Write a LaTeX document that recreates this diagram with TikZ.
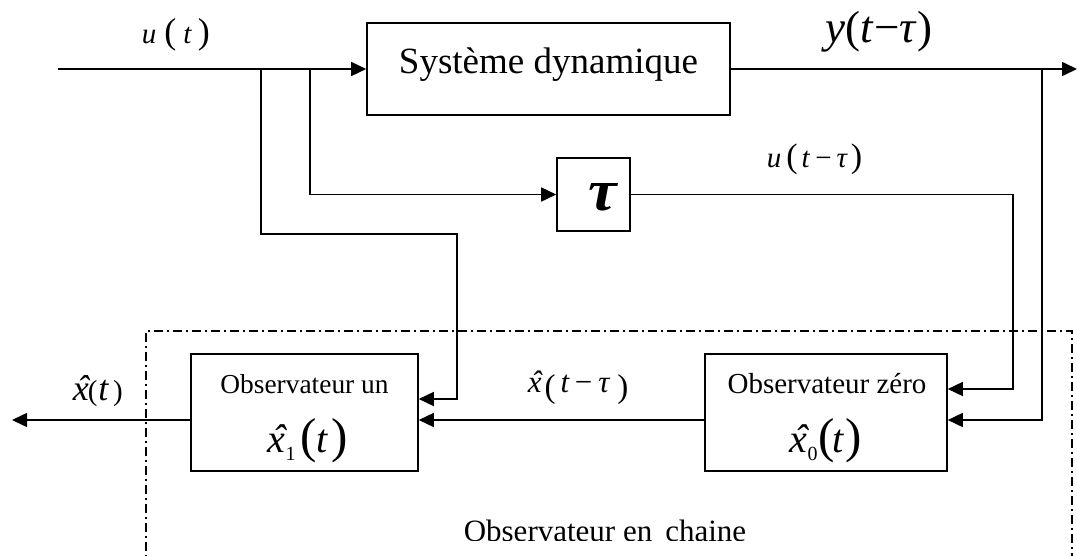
\documentclass[tikz,border=0pt]{standalone}
\usepackage{fontspec}
\setmainfont{Liberation Serif}
\usepackage{graphicx}
\usetikzlibrary{arrows.meta,calc}
\newcommand\fs[1]{\fontsize{#1}{#1}\selectfont}
\newcommand\xh{\textit{x\llap{ˆ}}}
\begin{document}
\begin{tikzpicture}[x=1pt,y=-1pt,line width=1.6pt,
  arr/.style={-{Triangle[length=15pt,width=14pt]}},
  blk/.style={draw,line width=1.6pt,inner sep=0pt},
  lbl/.style={inner sep=0pt,anchor=base west},
  dashdot/.style={line width=1.4pt,dash pattern=on 9pt off 4pt on 2pt off 4pt}]
\clip (0,0) rectangle (1077,555);
% blocks
\node[blk,minimum width=363pt,minimum height=92pt,text height=30pt,text depth=22pt] (sys) at (548.5,69) {\fs{37}Système dynamique};
\node[blk,minimum width=73pt,minimum height=73pt] (tau) at (593.5,194.5) {};
\node[inner sep=0pt] (taut) at (603,197) {\resizebox{30pt}{27pt}{\textbf{\textit{τ}}}};
\node[blk,minimum width=227pt,minimum height=117pt] (obs1) at (304.5,412.5) {};
\node[blk,minimum width=242pt,minimum height=117pt] (obs0) at (826,412.5) {};
% texts inside observer blocks
\node[inner sep=0pt,anchor=base] (obs1t) at (304.5,393) {\fs{27.4}Observateur un};
\node[lbl] (obs1x) at (267,452) {\fs{40}\xh\raisebox{-8pt}{\fs{20}1}\kern5pt\fs{49}(\fs{40}\textit{t}\kern3pt\fs{49})};
\node[inner sep=0pt,anchor=base] (obs0t) at (827,393) {\fs{29}Observateur zéro};
\node[lbl] (obs0x) at (789,452) {\fs{40}\xh\raisebox{-8pt}{\fs{20}0}\kern1pt\fs{49}(\kern-2pt\fs{40}\textit{t}\kern1pt\fs{49})};
% signal labels
\node[lbl] (lu) at (141,43) {\fs{29}\textit{u}\hspace{8pt}\fs{36}(\hspace{7pt}\fs{29}\textit{t}\hspace{6pt}\fs{36})};
\node[lbl] (ly) at (825,42) {\fs{45}\textit{y}(\textit{t}−\textit{τ})};
\node[lbl] (lut) at (766,167) {\fs{29}\textit{u}\hspace{5pt}\fs{34}(\hspace{4pt}\fs{29}\textit{t}\hspace{5pt}−\hspace{5pt}\textit{τ}\hspace{3pt}\fs{34})};
\node[lbl] (lxt) at (527,392) {\fs{31}\xh\kern3pt\raisebox{-5pt}{\fs{33}(}\kern5pt\textit{t}\kern5pt−\kern6pt\textit{τ}\kern7pt\raisebox{-5pt}{\fs{33})}};
\node[lbl] (lx) at (72,400) {\fs{36}\xh\kern-1pt\fs{29}(\kern1pt\fs{36}\textit{t}\kern4pt\fs{29})};
% chain frame
\draw[dashdot] (146,570) |- (1072,331) -- (1072,570);
\begin{scope}
\clip (300,480) rectangle (900,540);
\node[lbl] (chain) at (463,541) {\fs{31}Observateur en\hspace{13pt}chaine};
\end{scope}
% junctions and corners
\coordinate (in) at (58,69);
\coordinate (jA) at (261,69);
\coordinate (cA) at (457,234);
\coordinate (jB) at (310,69);
\coordinate (cT) at (1013,389);
\coordinate (jC) at (1042,69);
\coordinate (out) at (1077,69);
\coordinate (xout) at (12,420);
% connectors
\draw[arr] (in) -- (sys.west);
\draw[arr] (sys.east) -- (out);
\draw[arr] (jA) |- (cA) |- ([yshift=13.5pt]obs1.east);
\draw[arr] (jB) |- (tau.west);
\draw[arr] (tau.east) -| (cT) -- ([yshift=23.5pt]obs0.east);
\draw[arr] (jC) |- ([yshift=-7.5pt]obs0.east);
\draw[arr] ([yshift=-7.5pt]obs0.west) -- ([yshift=-7.5pt]obs1.east);
\draw[arr] ([yshift=-7.5pt]obs1.west) -- (xout);
\end{tikzpicture}
\end{document}
